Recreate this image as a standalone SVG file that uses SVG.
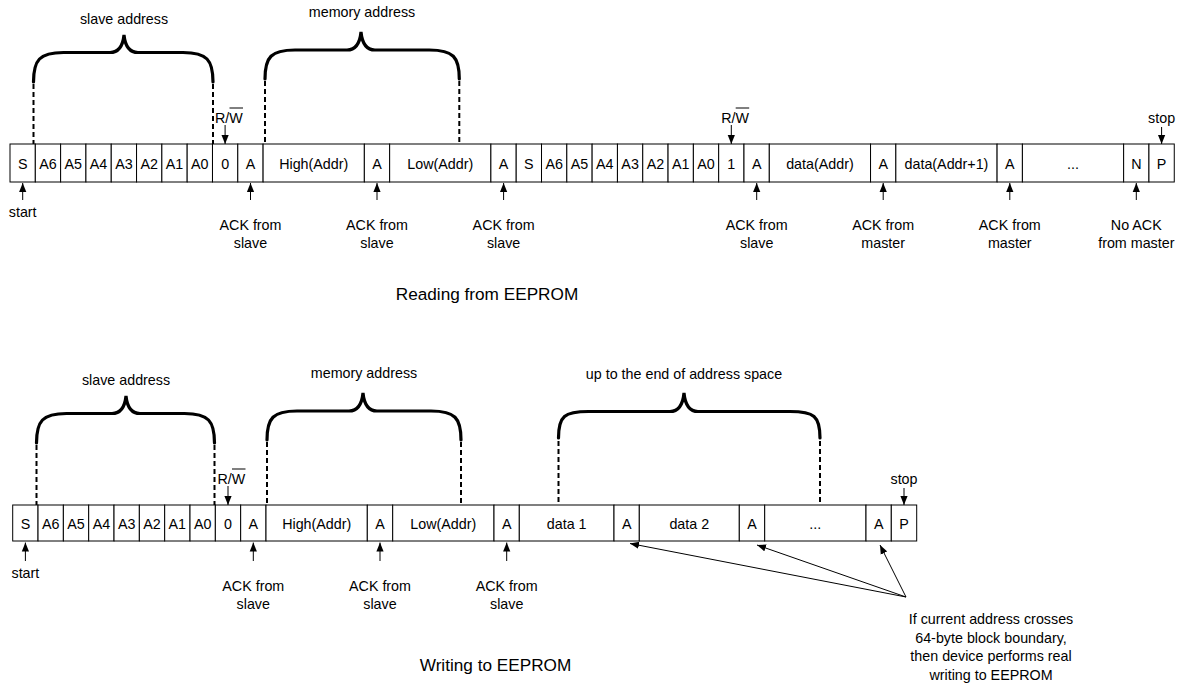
<svg xmlns="http://www.w3.org/2000/svg" width="1182" height="688" viewBox="0 0 1182 688">
<style>
.cell{fill:#fff;stroke:#000;stroke-width:1}
.t{font-family:"Liberation Sans",Arial,sans-serif;font-size:14.3px;fill:#000;text-anchor:middle}
.ts{font-family:"Liberation Sans",Arial,sans-serif;font-size:14.3px;fill:#000}
.title{font-family:"Liberation Sans",Arial,sans-serif;font-size:17.2px;fill:#000;text-anchor:middle}
.brace{fill:none;stroke:#000;stroke-width:3.2;stroke-linecap:round}
.dash{stroke:#000;stroke-width:2;stroke-dasharray:5 3}
.arr{stroke:#000;stroke-width:1;marker-end:url(#ah)}
.ol{stroke:#000;stroke-width:1}
</style>
<defs>
<marker id="ah" viewBox="0 0 10 8" refX="10" refY="4" markerWidth="9" markerHeight="8" markerUnits="userSpaceOnUse" orient="auto"><path d="M0,0 L10,4 L0,8 z" fill="#000"/></marker>
</defs>
<rect width="1182" height="688" fill="#fff"/>

<!-- ===== Reading from EEPROM ===== -->
<g id="read-braces">
<path class="brace" d="M33.5,82 C33.5,60 39.5,52.5 63.5,52.5 L110,52.5 C119,52.5 123,44.5 124,35 C125,44.5 129,52.5 138,52.5 L183,52.5 C207,52.5 213,60 213,82"/>
<text class="t" x="124" y="23.5">slave address</text>
<path class="brace" d="M265,79 C265,57 271,50 295,50 L347,50 C356,50 360,42 361,32 C362,42 366,50 375,50 L429.3,50 C453.3,50 459.3,57 459.3,79"/>
<text class="t" x="362" y="17">memory address</text>
</g>

<g id="read-row">
<g id="r-S1"><rect class="cell" x="10" y="144" width="25.31" height="38"/><text class="t" x="22.66" y="168.5">S</text></g>
<g id="r-A6a"><rect class="cell" x="35.31" y="144" width="25.31" height="38"/><text class="t" x="47.97" y="168.5">A6</text></g>
<g id="r-A5a"><rect class="cell" x="60.62" y="144" width="25.31" height="38"/><text class="t" x="73.28" y="168.5">A5</text></g>
<g id="r-A4a"><rect class="cell" x="85.93" y="144" width="25.31" height="38"/><text class="t" x="98.59" y="168.5">A4</text></g>
<g id="r-A3a"><rect class="cell" x="111.24" y="144" width="25.31" height="38"/><text class="t" x="123.9" y="168.5">A3</text></g>
<g id="r-A2a"><rect class="cell" x="136.55" y="144" width="25.31" height="38"/><text class="t" x="149.21" y="168.5">A2</text></g>
<g id="r-A1a"><rect class="cell" x="161.86" y="144" width="25.31" height="38"/><text class="t" x="174.52" y="168.5">A1</text></g>
<g id="r-A0a"><rect class="cell" x="187.17" y="144" width="25.31" height="38"/><text class="t" x="199.83" y="168.5">A0</text></g>
<g id="r-W0"><rect class="cell" x="212.48" y="144" width="25.31" height="38"/><text class="t" x="225.14" y="168.5">0</text></g>
<g id="r-ack1"><rect class="cell" x="237.79" y="144" width="25.31" height="38"/><text class="t" x="250.45" y="168.5">A</text></g>
<g id="r-high"><rect class="cell" x="263.1" y="144" width="101.24" height="38"/><text class="t" x="313.72" y="168.5">High(Addr)</text></g>
<g id="r-ack2"><rect class="cell" x="364.34" y="144" width="25.31" height="38"/><text class="t" x="376.99" y="168.5">A</text></g>
<g id="r-low"><rect class="cell" x="389.65" y="144" width="101.24" height="38"/><text class="t" x="440.27" y="168.5">Low(Addr)</text></g>
<g id="r-ack3"><rect class="cell" x="490.89" y="144" width="25.31" height="38"/><text class="t" x="503.55" y="168.5">A</text></g>
<g id="r-S2"><rect class="cell" x="516.2" y="144" width="25.31" height="38"/><text class="t" x="528.86" y="168.5">S</text></g>
<g id="r-A6b"><rect class="cell" x="541.51" y="144" width="25.31" height="38"/><text class="t" x="554.17" y="168.5">A6</text></g>
<g id="r-A5b"><rect class="cell" x="566.82" y="144" width="25.31" height="38"/><text class="t" x="579.48" y="168.5">A5</text></g>
<g id="r-A4b"><rect class="cell" x="592.13" y="144" width="25.31" height="38"/><text class="t" x="604.79" y="168.5">A4</text></g>
<g id="r-A3b"><rect class="cell" x="617.44" y="144" width="25.31" height="38"/><text class="t" x="630.1" y="168.5">A3</text></g>
<g id="r-A2b"><rect class="cell" x="642.75" y="144" width="25.31" height="38"/><text class="t" x="655.41" y="168.5">A2</text></g>
<g id="r-A1b"><rect class="cell" x="668.06" y="144" width="25.31" height="38"/><text class="t" x="680.72" y="168.5">A1</text></g>
<g id="r-A0b"><rect class="cell" x="693.37" y="144" width="25.31" height="38"/><text class="t" x="706.03" y="168.5">A0</text></g>
<g id="r-R1"><rect class="cell" x="718.68" y="144" width="25.31" height="38"/><text class="t" x="731.34" y="168.5">1</text></g>
<g id="r-ack4"><rect class="cell" x="743.99" y="144" width="25.31" height="38"/><text class="t" x="756.65" y="168.5">A</text></g>
<g id="r-data1"><rect class="cell" x="769.3" y="144" width="101.24" height="38"/><text class="t" x="819.92" y="168.5">data(Addr)</text></g>
<g id="r-ack5"><rect class="cell" x="870.54" y="144" width="25.31" height="38"/><text class="t" x="883.2" y="168.5">A</text></g>
<g id="r-data2"><rect class="cell" x="895.85" y="144" width="101.24" height="38"/><text class="t" x="946.47" y="168.5">data(Addr+1)</text></g>
<g id="r-ack6"><rect class="cell" x="997.09" y="144" width="25.31" height="38"/><text class="t" x="1009.75" y="168.5">A</text></g>
<g id="r-dots"><rect class="cell" x="1022.4" y="144" width="101.24" height="38"/><text class="t" x="1073.02" y="168.5">...</text></g>
<g id="r-N"><rect class="cell" x="1123.64" y="144" width="25.31" height="38"/><text class="t" x="1136.3" y="168.5">N</text></g>
<g id="r-P"><rect class="cell" x="1148.95" y="144" width="25.31" height="38"/><text class="t" x="1161.61" y="168.5">P</text></g>
</g>

<g id="read-labels">
<text class="ts" x="215" y="122.5">R/W</text>
<text class="ts" x="721.2" y="122.5">R/W</text>
<text class="t" x="1161.6" y="122.5">stop</text>
<text class="t" x="22.7" y="216.5">start</text>
<text class="t" x="250.5" y="230">ACK from</text><text class="t" x="250.5" y="248">slave</text>
<text class="t" x="377" y="230">ACK from</text><text class="t" x="377" y="248">slave</text>
<text class="t" x="503.6" y="230">ACK from</text><text class="t" x="503.6" y="248">slave</text>
<text class="t" x="756.7" y="230">ACK from</text><text class="t" x="756.7" y="248">slave</text>
<text class="t" x="883.2" y="230">ACK from</text><text class="t" x="883.2" y="248">master</text>
<text class="t" x="1009.8" y="230">ACK from</text><text class="t" x="1009.8" y="248">master</text>
<text class="t" x="1136.3" y="230">No ACK</text><text class="t" x="1136.3" y="248">from master</text>
<text class="title" x="487" y="299.5">Reading from EEPROM</text>
</g>

<!-- ===== Writing to EEPROM ===== -->
<g id="write-braces">
<path class="brace" d="M36.5,443 C36.5,421 42.5,413.5 66.5,413.5 L112,413.5 C121,413.5 125,405.5 126,396 C127,405.5 131,413.5 140,413.5 L184.5,413.5 C208.5,413.5 214.5,421 214.5,443"/>
<text class="t" x="126" y="384.5">slave address</text>
<path class="brace" d="M267,440 C267,418 273,411 297,411 L349,411 C358,411 362,403 363,393 C364,403 368,411 377,411 L431,411 C455,411 461,418 461,440"/>
<text class="t" x="364" y="378">memory address</text>
<path class="brace" d="M558.5,438 C558.5,416 564.5,411.5 588.5,411.5 L670,411.5 C679,411.5 683,403.5 684,393 C685,403.5 689,411.5 698,411.5 L790,411.5 C814,411.5 820,416 820,438"/>
<text class="t" x="684" y="379">up to the end of address space</text>
</g>

<g id="write-row">
<g id="w-S"><rect class="cell" x="12.7" y="505" width="25.33" height="36"/><text class="t" x="25.4" y="528.5">S</text></g>
<g id="w-A6"><rect class="cell" x="38.03" y="505" width="25.33" height="36"/><text class="t" x="50.7" y="528.5">A6</text></g>
<g id="w-A5"><rect class="cell" x="63.36" y="505" width="25.33" height="36"/><text class="t" x="76" y="528.5">A5</text></g>
<g id="w-A4"><rect class="cell" x="88.69" y="505" width="25.33" height="36"/><text class="t" x="101.4" y="528.5">A4</text></g>
<g id="w-A3"><rect class="cell" x="114.02" y="505" width="25.33" height="36"/><text class="t" x="126.7" y="528.5">A3</text></g>
<g id="w-A2"><rect class="cell" x="139.35" y="505" width="25.33" height="36"/><text class="t" x="152" y="528.5">A2</text></g>
<g id="w-A1"><rect class="cell" x="164.68" y="505" width="25.33" height="36"/><text class="t" x="177.3" y="528.5">A1</text></g>
<g id="w-A0"><rect class="cell" x="190.01" y="505" width="25.33" height="36"/><text class="t" x="202.7" y="528.5">A0</text></g>
<g id="w-W0"><rect class="cell" x="215.34" y="505" width="25.33" height="36"/><text class="t" x="228" y="528.5">0</text></g>
<g id="w-ack1"><rect class="cell" x="240.67" y="505" width="25.33" height="36"/><text class="t" x="253.3" y="528.5">A</text></g>
<g id="w-high"><rect class="cell" x="266" y="505" width="101.3" height="36"/><text class="t" x="316.7" y="528.5">High(Addr)</text></g>
<g id="w-ack2"><rect class="cell" x="367.3" y="505" width="25.4" height="36"/><text class="t" x="380" y="528.5">A</text></g>
<g id="w-low"><rect class="cell" x="392.7" y="505" width="101.3" height="36"/><text class="t" x="443.3" y="528.5">Low(Addr)</text></g>
<g id="w-ack3"><rect class="cell" x="494" y="505" width="25.3" height="36"/><text class="t" x="506.7" y="528.5">A</text></g>
<g id="w-data1"><rect class="cell" x="519.3" y="505" width="94.7" height="36"/><text class="t" x="566.7" y="528.5">data 1</text></g>
<g id="w-ack4"><rect class="cell" x="614" y="505" width="25.3" height="36"/><text class="t" x="626.7" y="528.5">A</text></g>
<g id="w-data2"><rect class="cell" x="639.3" y="505" width="100" height="36"/><text class="t" x="689.3" y="528.5">data 2</text></g>
<g id="w-ack5"><rect class="cell" x="739.3" y="505" width="25.4" height="36"/><text class="t" x="752" y="528.5">A</text></g>
<g id="w-dots"><rect class="cell" x="764.7" y="505" width="101.3" height="36"/><text class="t" x="815.3" y="528.5">...</text></g>
<g id="w-ack6"><rect class="cell" x="866" y="505" width="25.3" height="36"/><text class="t" x="878.7" y="528.5">A</text></g>
<g id="w-P"><rect class="cell" x="891.3" y="505" width="25.4" height="36"/><text class="t" x="904" y="528.5">P</text></g>
</g>

<g id="write-labels">
<text class="ts" x="217.5" y="483.5">R/W</text>
<text class="t" x="904" y="483.5">stop</text>
<text class="t" x="25.4" y="577.5">start</text>
<text class="t" x="253.3" y="591">ACK from</text><text class="t" x="253.3" y="609">slave</text>
<text class="t" x="380" y="591">ACK from</text><text class="t" x="380" y="609">slave</text>
<text class="t" x="506.7" y="591">ACK from</text><text class="t" x="506.7" y="609">slave</text>
<text class="t" x="991" y="624">If current address crosses</text>
<text class="t" x="991" y="642.5">64-byte block boundary,</text>
<text class="t" x="991" y="661">then device performs real</text>
<text class="t" x="991" y="680">writing to EEPROM</text>
<text class="title" x="495.5" y="670.7">Writing to EEPROM</text>
</g>

<g id="connectors">
<!-- overlines for R/W -->
<line class="ol" x1="229.5" y1="108" x2="243" y2="108"/>
<line class="ol" x1="735.7" y1="108" x2="749.2" y2="108"/>
<line class="ol" x1="232" y1="469" x2="245.5" y2="469"/>
<!-- dashed bracket guides -->
<line class="dash" x1="33.5" y1="84" x2="33.5" y2="144"/>
<line class="dash" x1="213" y1="84" x2="213" y2="144"/>
<line class="dash" x1="265" y1="81" x2="265" y2="144"/>
<line class="dash" x1="459.3" y1="81" x2="459.3" y2="144"/>
<line class="dash" x1="36.5" y1="445" x2="36.5" y2="505"/>
<line class="dash" x1="214.5" y1="445" x2="214.5" y2="505"/>
<line class="dash" x1="267" y1="442" x2="267" y2="505"/>
<line class="dash" x1="461" y1="442" x2="461" y2="505"/>
<line class="dash" x1="558.5" y1="441" x2="558.5" y2="505"/>
<line class="dash" x1="820" y1="441" x2="820" y2="505"/>
<!-- top row arrows -->
<line class="arr" x1="225.1" y1="125" x2="225.1" y2="144"/>
<line class="arr" x1="731.3" y1="125" x2="731.3" y2="144"/>
<line class="arr" x1="1161.6" y1="127" x2="1161.6" y2="144"/>
<line class="arr" x1="22.7" y1="200" x2="22.7" y2="183"/>
<line class="arr" x1="250.5" y1="200" x2="250.5" y2="183"/>
<line class="arr" x1="377" y1="200" x2="377" y2="183"/>
<line class="arr" x1="503.6" y1="200" x2="503.6" y2="183"/>
<line class="arr" x1="756.7" y1="200" x2="756.7" y2="183"/>
<line class="arr" x1="883.2" y1="200" x2="883.2" y2="183"/>
<line class="arr" x1="1009.8" y1="200" x2="1009.8" y2="183"/>
<line class="arr" x1="1136.3" y1="200" x2="1136.3" y2="183"/>
<!-- bottom row arrows -->
<line class="arr" x1="228" y1="486" x2="228" y2="505"/>
<line class="arr" x1="904" y1="488" x2="904" y2="505"/>
<line class="arr" x1="25.4" y1="561" x2="25.4" y2="542.5"/>
<line class="arr" x1="253.3" y1="561" x2="253.3" y2="542.5"/>
<line class="arr" x1="380" y1="561" x2="380" y2="542.5"/>
<line class="arr" x1="506.7" y1="561" x2="506.7" y2="542.5"/>
<!-- note arrows -->
<line class="arr" x1="906" y1="597" x2="630" y2="543.5"/>
<line class="arr" x1="906" y1="597" x2="757" y2="545"/>
<line class="arr" x1="906" y1="597" x2="880" y2="545"/>
</g>
</svg>
